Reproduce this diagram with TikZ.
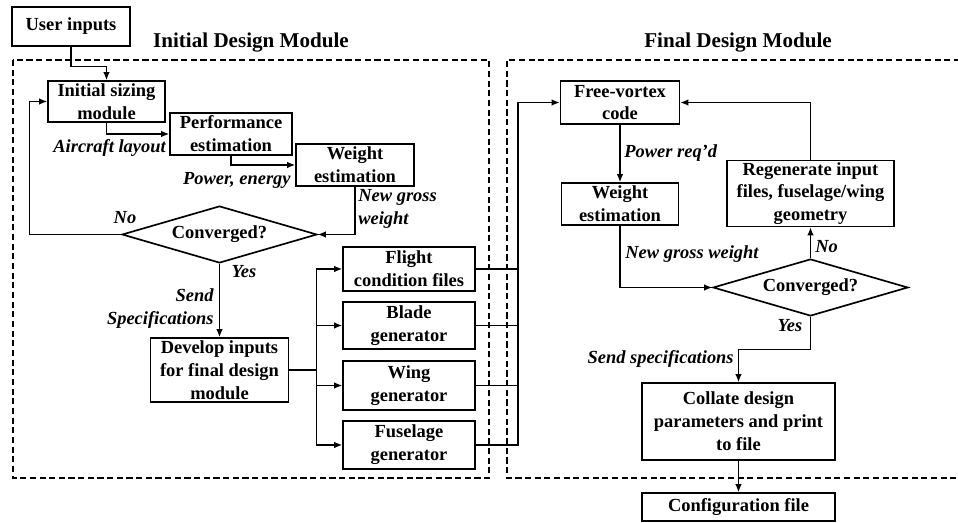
\documentclass[tikz,border=0pt]{standalone}
\usepackage{fontspec}
\setmainfont{Liberation Serif}
\usetikzlibrary{arrows.meta,shapes.geometric}
\newcommand{\boxfont}{\fontsize{10.5}{13}\selectfont\bfseries}
\tikzset{
  block/.style={draw, line width=0.95pt, align=center, inner sep=1pt,
                font=\boxfont, minimum width=2.36cm, minimum height=0.84cm},
  decision/.style={draw, diamond, aspect=3.4, inner sep=0pt, line width=0.95pt,
                   font=\boxfont, minimum width=3.9cm, minimum height=1.14cm},
  flow/.style={-{Latex[length=1.6mm,width=1.3mm]}, line width=0.75pt},
  link/.style={line width=0.75pt},
  lbl/.style={font=\boxfont\itshape, inner sep=0pt, align=left},
  module/.style={line width=1.1pt, dash pattern=on 3.5pt off 2pt},
  ttl/.style={font=\fontsize{12}{14}\selectfont\bfseries}
}

\begin{document}
\begin{tikzpicture}[x=0.02cm, y=-0.02cm]
  \useasboundingbox (0,0) rectangle (958,523);
  % module frames
  \draw[module] (13,60) rectangle (489,478);
  \draw[module] (960,60) -- (507,60) -- (507,478) -- (960,478);
  \node[ttl] (titleA) at (251,43) {Initial Design Module};
  \node[ttl] (titleB) at (738,43) {Final Design Module};

  % initial design module
  \node[block, minimum width=2.36cm, minimum height=0.78cm] (user) at (71,26.5) {User inputs};
  \node[block, minimum width=2.34cm, minimum height=0.82cm] (sizing) at (106.5,101.5) {Initial sizing\\module};
  \node[block, minimum width=2.44cm] (perf) at (231,134) {Performance\\estimation};
  \node[block] (wtA) at (355,165) {Weight\\estimation};
  \node[decision] (convA) at (219.5,234.5) {Converged?};
  \node[block, minimum width=2.76cm, minimum height=1.28cm] (dev) at (219.5,370) {Develop inputs\\for final design\\module};
  \node[block, minimum width=2.64cm, minimum height=0.88cm] (flight) at (409,269) {Flight\\condition files};
  \node[block, minimum width=2.64cm, minimum height=0.94cm] (blade) at (409,325.5) {Blade\\generator};
  \node[block, minimum width=2.64cm, minimum height=0.98cm] (wing) at (409,385.5) {Wing\\generator};
  \node[block, minimum width=2.64cm, minimum height=0.96cm] (fuse) at (409,445) {Fuselage\\generator};

  \draw[flow] (user.south) -- ++(0,20) -| (sizing.north);
  \draw[flow] (sizing.south) |- (perf.west);
  \draw[flow] (perf.south) |- (wtA.west);
  \draw[flow] (wtA.south) |- (convA.east);
  \draw[flow] (convA.west) -- ++(-92,0) |- (sizing.west);
  \draw[flow] (convA.south) -- (dev.north);
  \draw[link] (dev.east) -- ++(27,0) coordinate (split);
  \foreach \g in {flight,blade,wing,fuse}
    \draw[flow] (split) |- (\g.west);

  \node[lbl, anchor=east] (layout) at (166,148) {Aircraft layout};
  \node[lbl, anchor=east] (power) at (291,180) {Power, energy};
  \node[lbl, anchor=north west] (grossA) at (358,189) {New gross\\weight};
  \node[lbl] (noA) at (125,218) {No};
  \node[lbl] (yesA) at (244,272) {Yes};
  \node[lbl, anchor=east, align=right] (sendA) at (214,308.5) {Send\\Specifications};

  % final design module
  \node[block, minimum width=2.38cm, minimum height=0.86cm] (fvc) at (620,102.5) {Free-vortex\\code};
  \node[block, minimum width=2.34cm] (wtB) at (620,204) {Weight\\estimation};
  \node[block, minimum width=3.34cm, minimum height=1.3cm] (regen) at (810.5,193.5) {Regenerate input\\files, fuselage/wing\\geometry};
  \node[decision] (convB) at (810.5,287.5) {Converged?};
  \node[block, minimum width=3.86cm, minimum height=1.54cm] (collate) at (738.5,421.5) {Collate design\\parameters and print\\to file};
  \node[block, minimum width=3.86cm, minimum height=0.56cm] (config) at (738.5,507) {Configuration file};

  \coordinate (bus) at (518,0);
  \foreach \g in {flight,blade,wing}
    \draw[link] (\g.east) -- (\g.east -| bus);
  \draw[flow] (fuse.east) -| (bus |- fvc.west) -- (fvc.west);
  \draw[flow] (fvc.south) -- (wtB.north);
  \draw[flow] (wtB.south) |- (convB.west);
  \draw[flow] (convB.north) -- (regen.south);
  \draw[flow] (regen.north) |- (fvc.east);
  \draw[flow] (convB.south) -- ++(0,33) -| (collate.north);
  \draw[flow] (collate.south) -- (config.north);

  \node[lbl, anchor=west] (powB) at (624,153) {Power req’d};
  \node[lbl, anchor=west] (grossB) at (625,254) {New gross weight};
  \node[lbl, anchor=west] (noB) at (815,247) {No};
  \node[lbl] (yesB) at (790,326) {Yes};
  \node[lbl, anchor=east] (sendB) at (734,359) {Send specifications};
\end{tikzpicture}
\end{document}
